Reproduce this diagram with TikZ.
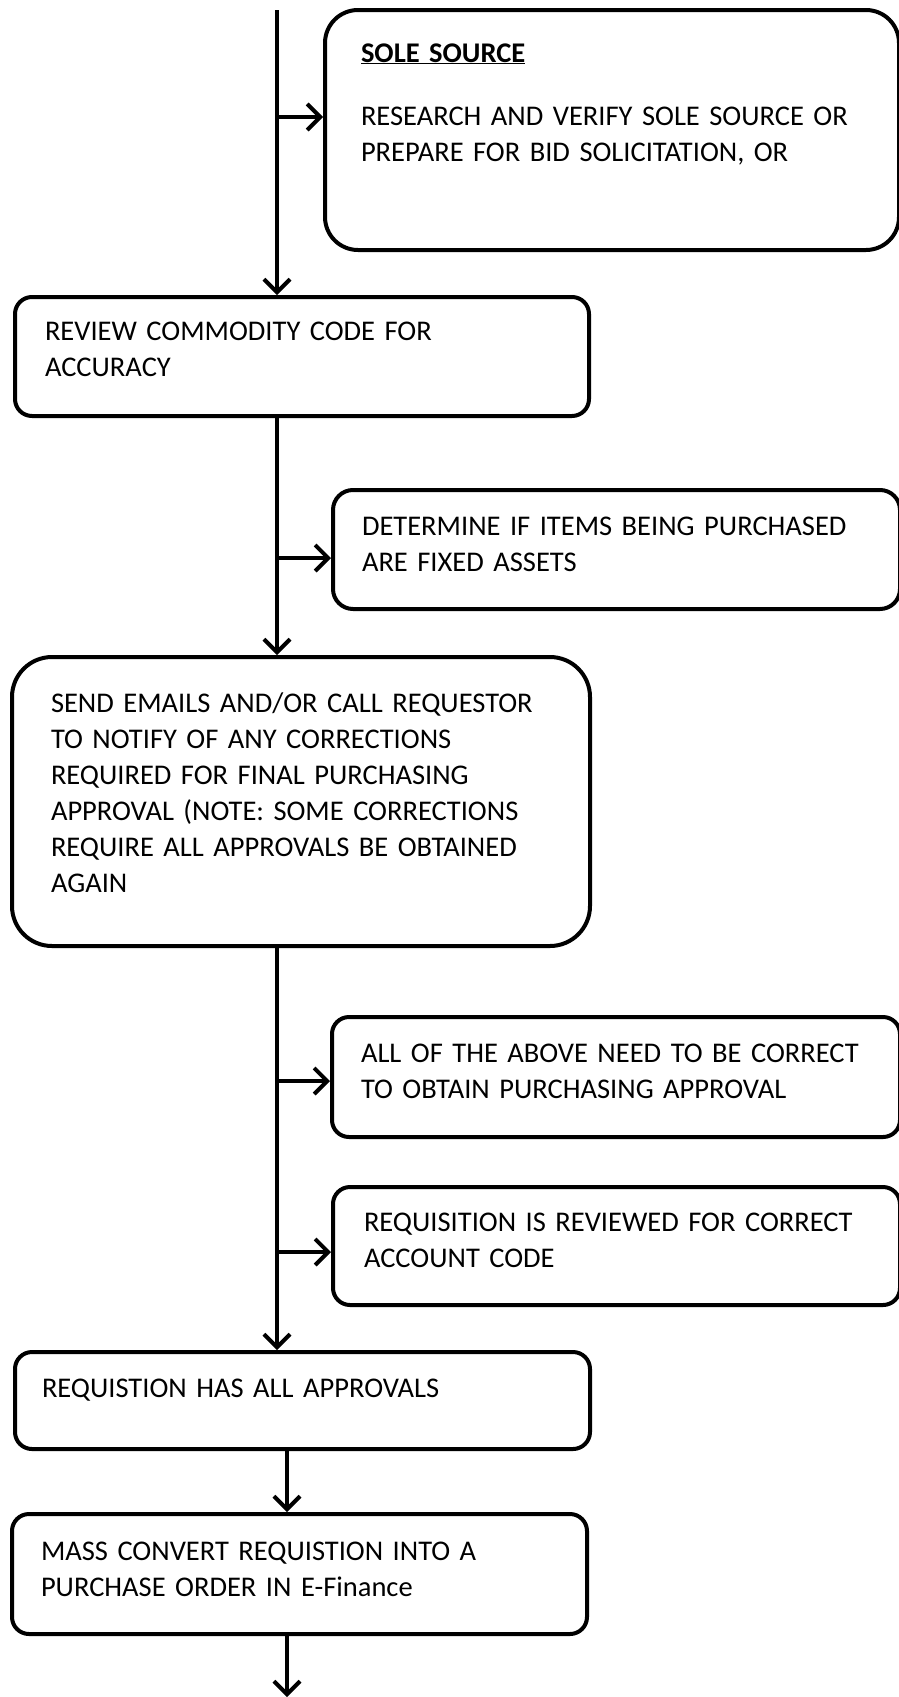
\documentclass[tikz,border=0pt]{standalone}
\usepackage{fontspec}
\setmainfont{Carlito}
\usetikzlibrary{arrows.meta}

\begin{document}
\begin{tikzpicture}[x=1pt,y=-1pt,
    stage/.style={draw,line width=4pt,rounded corners=17pt,anchor=north west,
      align=left,inner ysep=0pt,font=\fontsize{28.5}{36}\selectfont},
    flow/.style={line width=4pt,-{Straight Barb[length=13pt,width=26pt]}}]

    \useasboundingbox (0,0) rectangle (899,1697);

    \node[stage,rounded corners=33pt,text width=502pt,inner xsep=36pt,text height=52pt,text depth=188pt] (sole) at (323,8)
        {\underline{\textbf{SOLE SOURCE}}\\[27pt]RESEARCH AND VERIFY SOLE SOURCE OR\\PREPARE FOR BID SOLICITATION, OR};
    \node[stage,text width=514pt,inner xsep=30pt,text height=43pt,text depth=76pt] (review) at (13,295)
        {REVIEW COMMODITY CODE FOR\\ACCURACY};
    \node[stage,rounded corners=20pt,text width=509pt,inner xsep=29pt,text height=45pt,text depth=74pt] (determine) at (331,488)
        {DETERMINE IF ITEMS BEING PURCHASED\\ARE FIXED ASSETS};
    \node[stage,rounded corners=40pt,text width=500pt,inner xsep=39pt,text height=55pt,text depth=234pt] (send) at (10,655)
        {SEND EMAILS AND/OR CALL REQUESTOR\\TO NOTIFY OF ANY CORRECTIONS\\REQUIRED FOR FINAL PURCHASING\\APPROVAL (NOTE: SOME CORRECTIONS\\REQUIRE ALL APPROVALS BE OBTAINED\\AGAIN};
    \node[stage,text width=510pt,inner xsep=29pt,text height=45pt,text depth=75pt] (allabove) at (330,1015)
        {ALL OF THE ABOVE NEED TO BE CORRECT\\TO OBTAIN PURCHASING APPROVAL};
    \node[stage,text width=505pt,inner xsep=31pt,text height=44pt,text depth=74pt] (reviewed) at (331,1185)
        {REQUISITION IS REVIEWED FOR CORRECT\\ACCOUNT CODE};
    \node[stage,text width=521pt,inner xsep=27pt,text height=45pt,text depth=52pt] (hasall) at (13,1350)
        {REQUISTION HAS ALL APPROVALS};
    \node[stage,text width=517pt,inner xsep=29pt,text height=46pt,text depth=74pt] (mass) at (10,1512)
        {MASS CONVERT REQUISTION INTO A\\PURCHASE ORDER IN E-Finance};

    \coordinate (top) at (277,10);
    \coordinate (j1) at (277,117);
    \coordinate (j2) at (277,558);
    \coordinate (j3) at (277,1081);
    \coordinate (j4) at (277,1252);
    \coordinate (end) at (287,1697);

    \draw[flow] (top) -- (top |- review.north);
    \draw[flow] (j1) -- (j1 -| sole.west);
    \draw[flow] (review.south -| top) -- (top |- send.north);
    \draw[flow] (j2) -- (j2 -| determine.west);
    \draw[flow] (send.south -| top) -- (top |- hasall.north);
    \draw[flow] (j3) -- (j3 -| allabove.west);
    \draw[flow] (j4) -- (j4 -| reviewed.west);
    \draw[flow] (hasall.south -| end) -- (mass.north -| end);
    \draw[flow] (mass.south -| end) -- (end);

\end{tikzpicture}
\end{document}
